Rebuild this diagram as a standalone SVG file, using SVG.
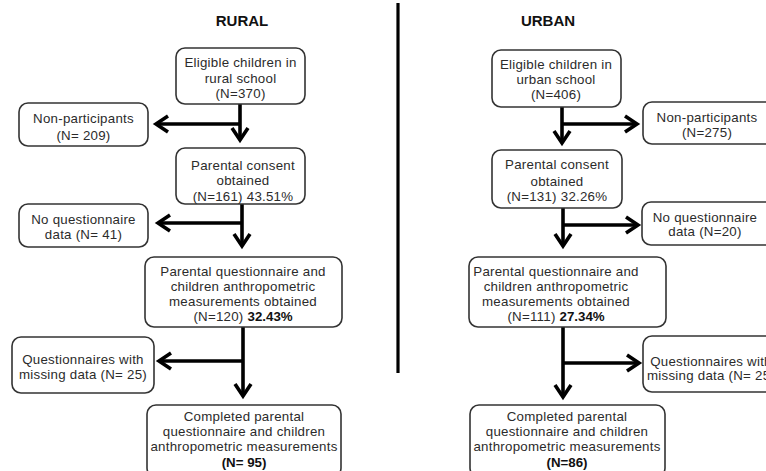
<svg xmlns="http://www.w3.org/2000/svg" width="766" height="471" viewBox="0 0 766 471">
<style>
.box{fill:#fff;stroke:#333;stroke-width:1.6}
.t{font-family:"Liberation Sans",Arial,sans-serif;font-size:13.3px;letter-spacing:0.25px;fill:#2b2b2b;text-anchor:middle}
.b{font-weight:bold;fill:#111;letter-spacing:0}
.h{font-family:"Liberation Sans",Arial,sans-serif;font-size:15px;font-weight:bold;fill:#111;text-anchor:middle}
.c{fill:none;stroke:#000;stroke-width:3.6}
</style>
<defs>
<marker id="ah" markerUnits="userSpaceOnUse" markerWidth="24" markerHeight="24" viewBox="-16 -12 20 24" refX="0" refY="0" orient="auto">
<path d="M-12,-8 L0,0 L-12,8" fill="none" stroke="#000" stroke-width="3.6" stroke-linejoin="miter"/>
</marker>
</defs>
<rect width="766" height="471" fill="#fff"/>
<text class="h" x="242" y="26">RURAL</text>
<text class="h" x="548" y="26">URBAN</text>
<line x1="398" y1="3" x2="398" y2="373" stroke="#000" stroke-width="3.2"/>

<g id="connectors">
<path class="c" d="M240,104 V140" marker-end="url(#ah)"/>
<path class="c" d="M241,124 H156" marker-end="url(#ah)"/>
<path class="c" d="M242,204 V246" marker-end="url(#ah)"/>
<path class="c" d="M243,223 H158" marker-end="url(#ah)"/>
<path class="c" d="M243,327 V396" marker-end="url(#ah)"/>
<path class="c" d="M244,361 H159" marker-end="url(#ah)"/>
<path class="c" d="M562,107 V143" marker-end="url(#ah)"/>
<path class="c" d="M561,124 H637" marker-end="url(#ah)"/>
<path class="c" d="M563,208 V246" marker-end="url(#ah)"/>
<path class="c" d="M562,225 H638" marker-end="url(#ah)"/>
<path class="c" d="M563,327 V397" marker-end="url(#ah)"/>
<path class="c" d="M562,363 H639" marker-end="url(#ah)"/>
</g>

<g id="r1"><rect class="box" x="176" y="48" width="129" height="56" rx="9"/>
<text class="t" x="240.5" y="67">Eligible children in</text>
<text class="t" x="240.5" y="83">rural school</text>
<text class="t" x="240.5" y="98">(N=370)</text></g>

<g id="r1x"><rect class="box" x="19" y="103" width="129" height="43" rx="9"/>
<text class="t" x="83.5" y="123">Non-participants</text>
<text class="t" x="83.5" y="140">(N= 209)</text></g>

<g id="r2"><rect class="box" x="176" y="148" width="129" height="56" rx="9"/>
<text class="t" x="243" y="170">Parental consent</text>
<text class="t" x="243" y="185">obtained</text>
<text class="t" x="243" y="201">(N=161)  43.51%</text></g>

<g id="r2x"><rect class="box" x="19" y="204" width="129" height="43" rx="9"/>
<text class="t" x="83.5" y="224">No questionnaire</text>
<text class="t" x="83.5" y="239">data (N= 41)</text></g>

<g id="r3"><rect class="box" x="145" y="257" width="197" height="70" rx="9"/>
<text class="t" x="243" y="276">Parental questionnaire and</text>
<text class="t" x="243" y="291">children anthropometric</text>
<text class="t" x="243" y="306">measurements obtained</text>
<text class="t" x="243" y="321">(N=120) <tspan class="b">32.43%</tspan></text></g>

<g id="r3x"><rect class="box" x="12" y="337" width="142" height="56" rx="9"/>
<text class="t" x="83" y="364">Questionnaires with</text>
<text class="t" x="83" y="379">missing data (N= 25)</text></g>

<g id="r4"><rect class="box" x="147" y="405" width="194" height="72" rx="9"/>
<text class="t" x="244" y="421">Completed parental</text>
<text class="t" x="244" y="436">questionnaire and children</text>
<text class="t" x="244" y="451">anthropometric measurements</text>
<text class="t b" x="244" y="467">(N= 95)</text></g>

<g id="u1"><rect class="box" x="492" y="50" width="129" height="57" rx="9"/>
<text class="t" x="556" y="69">Eligible children in</text>
<text class="t" x="556" y="84">urban school</text>
<text class="t" x="556" y="99">(N=406)</text></g>

<g id="u1x"><rect class="box" x="643" y="102" width="135" height="42" rx="9"/>
<text class="t" x="707" y="122">Non-participants</text>
<text class="t" x="707" y="137">(N=275)</text></g>

<g id="u2"><rect class="box" x="492" y="150" width="130" height="58" rx="9"/>
<text class="t" x="557" y="169">Parental consent</text>
<text class="t" x="557" y="186">obtained</text>
<text class="t" x="557" y="201">(N=131) 32.26%</text></g>

<g id="u2x"><rect class="box" x="642" y="202" width="135" height="43" rx="9"/>
<text class="t" x="705" y="222">No questionnaire</text>
<text class="t" x="705" y="236">data (N=20)</text></g>

<g id="u3"><rect class="box" x="469" y="257" width="197" height="70" rx="9"/>
<text class="t" x="556" y="276">Parental questionnaire and</text>
<text class="t" x="556" y="291">children anthropometric</text>
<text class="t" x="556" y="306">measurements obtained</text>
<text class="t" x="556" y="321">(N=111) <tspan class="b">27.34%</tspan></text></g>

<g id="u3x"><rect class="box" x="643" y="336" width="135" height="56" rx="9"/>
<text class="t" x="711" y="366">Questionnaires with</text>
<text class="t" x="711" y="380">missing data (N= 25)</text></g>

<g id="u4"><rect class="box" x="470" y="405" width="195" height="72" rx="9"/>
<text class="t" x="567" y="421">Completed parental</text>
<text class="t" x="567" y="436">questionnaire and children</text>
<text class="t" x="567" y="451">anthropometric measurements</text>
<text class="t b" x="567" y="467">(N=86)</text></g>
</svg>
